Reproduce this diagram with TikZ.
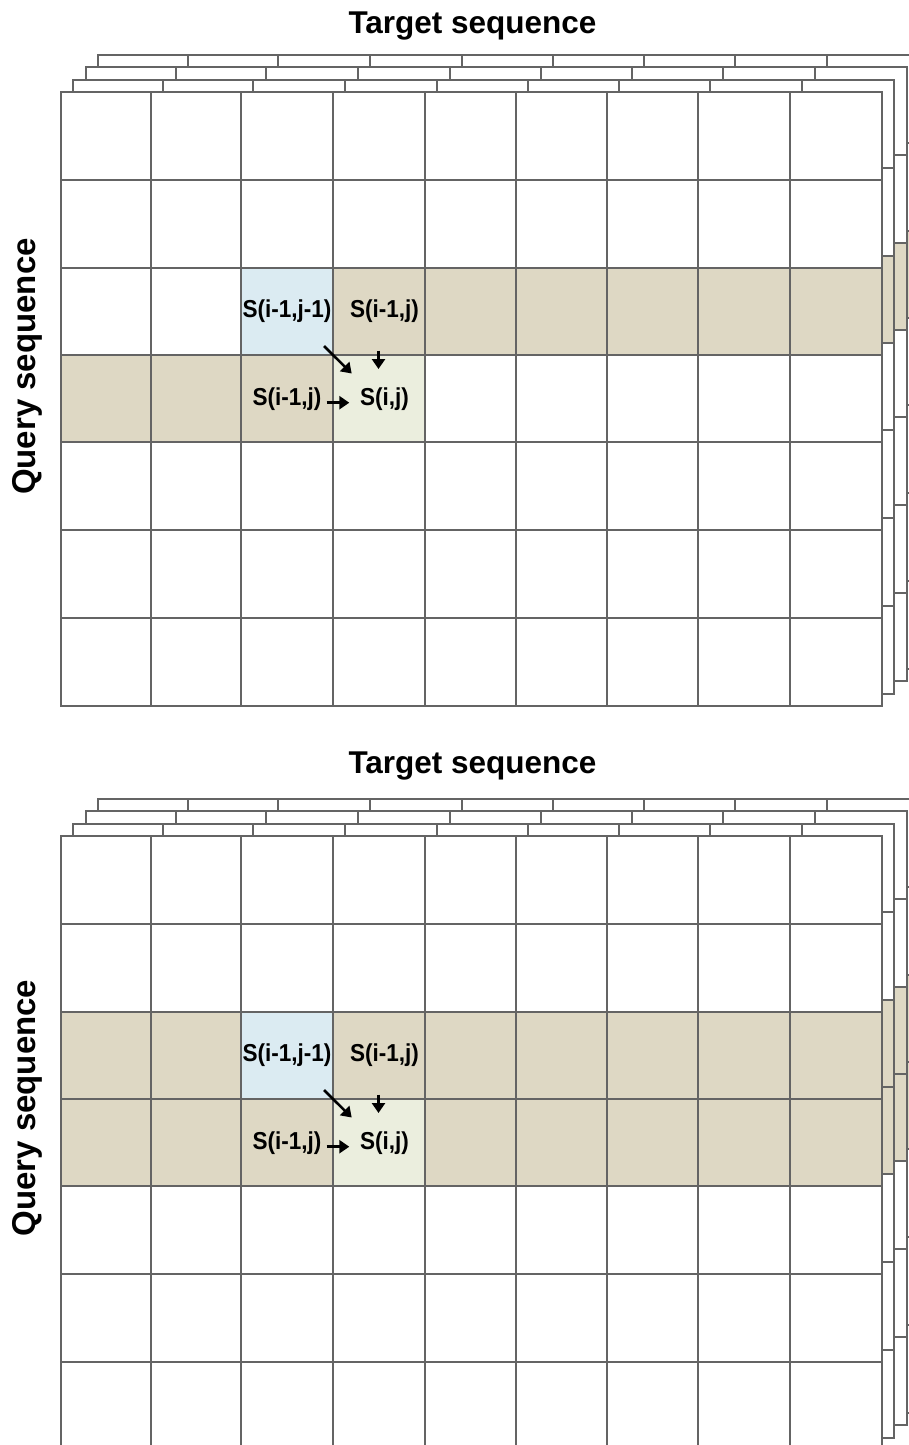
\documentclass[tikz,border=0pt]{standalone}
\usepackage{fontspec}
\setmainfont{Liberation Sans}
\usetikzlibrary{arrows.meta}

\definecolor{tanfill}{RGB}{222,216,196}
\definecolor{prevfill}{RGB}{219,235,242}
\definecolor{curfill}{RGB}{235,238,222}
\definecolor{gridcol}{RGB}{100,100,100}

\tikzset{
  gridln/.style={draw=gridcol, line width=1.8pt, line cap=rect},
  heading/.style={font=\fontsize{31.5}{36}\selectfont\bfseries, inner sep=0pt},
  sidehead/.style={font=\fontsize{33}{38}\selectfont\bfseries, inner sep=0pt, rotate=90, anchor=base},
  cellsym/.style={font=\fontsize{24.5}{29}\selectfont\bfseries, inner sep=0pt, xscale=0.92},
  dparrow/.style={line width=2.6pt, -{Triangle[length=10pt,width=13pt]}}
}

% One layer of the score matrix: white sheet, shaded cells, grid lines.
% #1 = 1 : only the previous row is shaded on the right and the current row on the left
% #1 = 2 : both rows are shaded completely
\newcommand\dplayer[1]{%
  \fill[white] (61,92) rectangle (882,706);
  \ifnum#1=1
    \fill[tanfill] (333,268) rectangle (882,355);
    \fill[tanfill] (61,355) rectangle (333,442);
  \else
    \fill[tanfill] (61,268) rectangle (882,442);
  \fi
  \fill[prevfill] (241,268) rectangle (333,355);
  \fill[curfill] (333,355) rectangle (425,442);
  \foreach \cx in {61,151,241,333,425,516,607,698,790,882}
    \draw[gridln] (\cx,92) -- (\cx,706);
  \foreach \ry in {92,180,268,355,442,530,618,706}
    \draw[gridln] (61,\ry) -- (882,\ry);
}

% A stack of four layers, the front one carrying the recurrence
\newcommand\dppanel[2]{%
  \foreach \L in {3,2,1} {
    \begin{scope}[shift={({12.3*\L},{-12.4*\L})}]
      \dplayer{#1}
    \end{scope}
  }
  \dplayer{#1}
  \node[cellsym] (diag#2) at (287,311.5) {S(i-1,j-1)};
  \node[cellsym] (up#2)   at (384.5,311.5) {S(i-1,j)};
  \node[cellsym] (left#2) at (287,399.5) {S(i-1,j)};
  \node[cellsym] (cur#2)  at (384.5,399.5) {S(i,j)};
  \draw[dparrow] ([shift={(37,34.5)}]diag#2.center) -- ([shift={(-32.8,-26)}]cur#2.center);
  \draw[dparrow] ([shift={(-6,39)}]up#2.center) -- ([shift={(-6,-30.5)}]cur#2.center);
  \draw[dparrow] ([shift={(39.7,3.2)}]left#2.center) -- ([shift={(-35.2,3.2)}]cur#2.center);
}

\begin{document}
\begin{tikzpicture}[x=1pt, y=-1pt]
  \useasboundingbox (0,0) rectangle (909,1445);
  \clip (0,0) rectangle (909,1445);

  % upper matrix
  \node[heading, anchor=base] (target1) at (472.5,33.3) {Target sequence};
  \node[sidehead] (query1) at (35,366.5) {Query sequence};
  \dppanel{1}{A}

  % lower matrix
  \node[heading, anchor=base] (target2) at (472.5,773.3) {Target sequence};
  \node[sidehead] (query2) at (35,1108) {Query sequence};
  \begin{scope}[shift={(0,744)}]
    \dppanel{2}{B}
  \end{scope}
\end{tikzpicture}
\end{document}
